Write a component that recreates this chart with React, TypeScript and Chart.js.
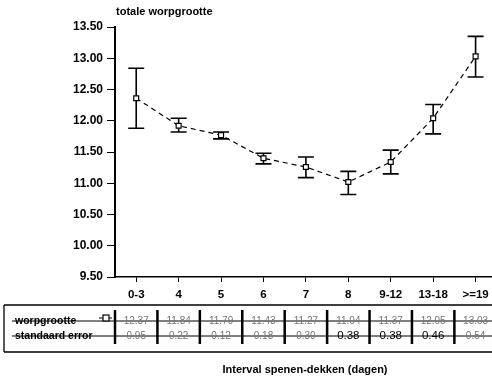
import React, { useEffect, useRef } from "react";
import { Chart, registerables } from "chart.js";

Chart.register(...registerables);

const categories = ["0-3", "4", "5", "6", "7", "8", "9-12", "13-18", ">=19"];
const means = [12.36, 11.92, 11.77, 11.4, 11.26, 11.02, 11.34, 12.04, 13.03];
const errLow = [11.88, 11.82, 11.71, 11.31, 11.09, 10.82, 11.15, 11.79, 12.7];
const errHigh = [12.84, 12.04, 11.82, 11.48, 11.42, 11.19, 11.53, 12.26, 13.35];
const tableRowLabels = ["worpgrootte", "standaard error"];
const tableMeans = ["12.37", "11.84", "11.79", "11.43", "11.27", "11.04", "11.37", "12.05", "13.03"];
const tableErrors = ["0.95", "0.22", "0.12", "0.18", "0.30", "0.38", "0.38", "0.46", "0.54"];
const yTitle = "totale worpgrootte";
const xTitle = "Interval spenen-dekken (dagen)";

const FONT = "'Liberation Sans', Arial, sans-serif";
const CANVAS_W = 502;

const errorBarPlugin = {
  id: "errorBars",
  beforeDatasetsDraw(chart: any) {
    const { ctx, scales } = chart;
    const x = scales.x;
    const y = scales.y;
    ctx.save();
    ctx.strokeStyle = "#000";
    ctx.lineWidth = 1.6;
    for (let i = 0; i < categories.length; i++) {
      const px = x.getPixelForValue(i);
      const top = y.getPixelForValue(errHigh[i]);
      const bot = y.getPixelForValue(errLow[i]);
      const cap = 8;
      ctx.beginPath();
      ctx.moveTo(px, top);
      ctx.lineTo(px, bot);
      ctx.moveTo(px - cap, top);
      ctx.lineTo(px + cap, top);
      ctx.moveTo(px - cap, bot);
      ctx.lineTo(px + cap, bot);
      ctx.stroke();
    }
    ctx.restore();
  },
};

const tablePlugin = {
  id: "tableAndTitles",
  afterDraw(chart: any) {
    const { ctx, scales, width } = chart;
    const x = scales.x;
    ctx.save();
    // y title
    ctx.fillStyle = "#000";
    ctx.font = `bold 11px ${FONT}`;
    ctx.textAlign = "left";
    ctx.textBaseline = "middle";
    ctx.fillText(yTitle, 116, 12);

    // table box
    const boxTop = 305;
    const boxBottom = 352;
    const boxLeft = 4;
    ctx.strokeStyle = "#000";
    ctx.lineWidth = 1.3;
    ctx.beginPath();
    ctx.moveTo(boxLeft, boxTop);
    ctx.lineTo(width, boxTop);
    ctx.moveTo(boxLeft, boxBottom);
    ctx.lineTo(width, boxBottom);
    ctx.moveTo(boxLeft, boxTop);
    ctx.lineTo(boxLeft, boxBottom);
    ctx.stroke();

    const row1 = 321;
    const row2 = 336;
    // row lines
    ctx.lineWidth = 1;
    ctx.beginPath();
    ctx.moveTo(boxLeft + 8, row1);
    ctx.lineTo(width, row1);
    ctx.moveTo(boxLeft + 8, row2);
    ctx.lineTo(width, row2);
    ctx.stroke();

    // vertical dividers
    ctx.lineWidth = 2.5;
    for (let i = 0; i < categories.length; i++) {
      const px = i === 0 ? x.left : (x.getPixelForValue(i) + x.getPixelForValue(i - 1)) / 2;
      ctx.beginPath();
      ctx.moveTo(px, 310);
      ctx.lineTo(px, 344);
      ctx.stroke();
    }

    // row labels
    ctx.font = `bold 10.5px ${FONT}`;
    ctx.textAlign = "left";
    ctx.fillText(tableRowLabels[0], 15, row1);
    ctx.fillText(tableRowLabels[1], 15, row2);

    // marker in legend
    ctx.lineWidth = 1.2;
    ctx.fillStyle = "#fff";
    ctx.fillRect(103, row1 - 6, 6, 6);
    ctx.strokeRect(103, row1 - 6, 6, 6);
    ctx.beginPath();
    ctx.moveTo(99, row1 - 3);
    ctx.lineTo(103, row1 - 3);
    ctx.moveTo(109, row1 - 3);
    ctx.lineTo(112, row1 - 3);
    ctx.stroke();

    // values
    ctx.textAlign = "center";
    for (let i = 0; i < categories.length; i++) {
      const px = x.getPixelForValue(i);
      ctx.fillStyle = "#777";
      ctx.font = `10px ${FONT}`;
      ctx.fillText(tableMeans[i], px, row1);
      const strong = i >= 5 && i <= 7;
      ctx.fillStyle = strong ? "#000" : "#777";
      ctx.font = strong ? `11.5px ${FONT}` : `10px ${FONT}`;
      ctx.fillText(tableErrors[i], px, row2);
    }

    // x title
    ctx.fillStyle = "#000";
    ctx.font = `bold 11px ${FONT}`;
    ctx.textAlign = "center";
    ctx.fillText(xTitle, 305, 370);
    ctx.restore();
  },
};

export default function App() {
  const ref = useRef<HTMLCanvasElement>(null);
  useEffect(() => {
    document.body.style.margin = "0";
    document.body.style.overflow = "hidden";
    const canvas = ref.current!;
    const chart = new Chart(canvas, {
      type: "line",
      data: {
        labels: categories,
        datasets: [
          {
            data: means,
            borderColor: "#000",
            borderWidth: 1.2,
            borderDash: [5, 4],
            tension: 0,
            pointStyle: "rect",
            pointRadius: 3.5,
            pointBackgroundColor: "#fff",
            pointBorderColor: "#000",
            pointBorderWidth: 1.2,
          },
        ],
      },
      options: {
        responsive: false,
        animation: false,
        layout: { padding: { top: 27, right: 0, left: 0, bottom: 0 } },
        plugins: { legend: { display: false }, tooltip: { enabled: false }, title: { display: false } },
        scales: {
          x: {
            type: "category",
            offset: true,
            grid: { offset: false, drawOnChartArea: false, tickLength: 5, color: "#000", lineWidth: 1 },
            border: { color: "#000", width: 1.5 },
            ticks: {
              color: "#000",
              font: { family: FONT, weight: "bold", size: 11.5 },
              padding: 6,
              maxRotation: 0,
              autoSkip: false,
            },
            afterFit: (s: any) => {
              s.height = 104;
            },
          },
          y: {
            type: "linear",
            min: 9.5,
            max: 13.5,
            ticks: {
              stepSize: 0.5,
              callback: (v: any) => Number(v).toFixed(2),
              color: "#000",
              font: { family: FONT, weight: "bold", size: 12 },
              padding: 4,
            },
            grid: { drawOnChartArea: false, tickLength: 8, color: "#000", lineWidth: 1 },
            border: { color: "#000", width: 2 },
            afterFit: (s: any) => {
              s.width = 115;
            },
          },
        },
      },
      plugins: [errorBarPlugin, tablePlugin],
    } as any);
    return () => chart.destroy();
  }, []);
  return (
    <div style={{ width: 492, height: 381, overflow: "hidden" }}>
      <canvas ref={ref} width={CANVAS_W} height={381} style={{ display: "block", width: CANVAS_W, height: 381 }} />
    </div>
  );
}
